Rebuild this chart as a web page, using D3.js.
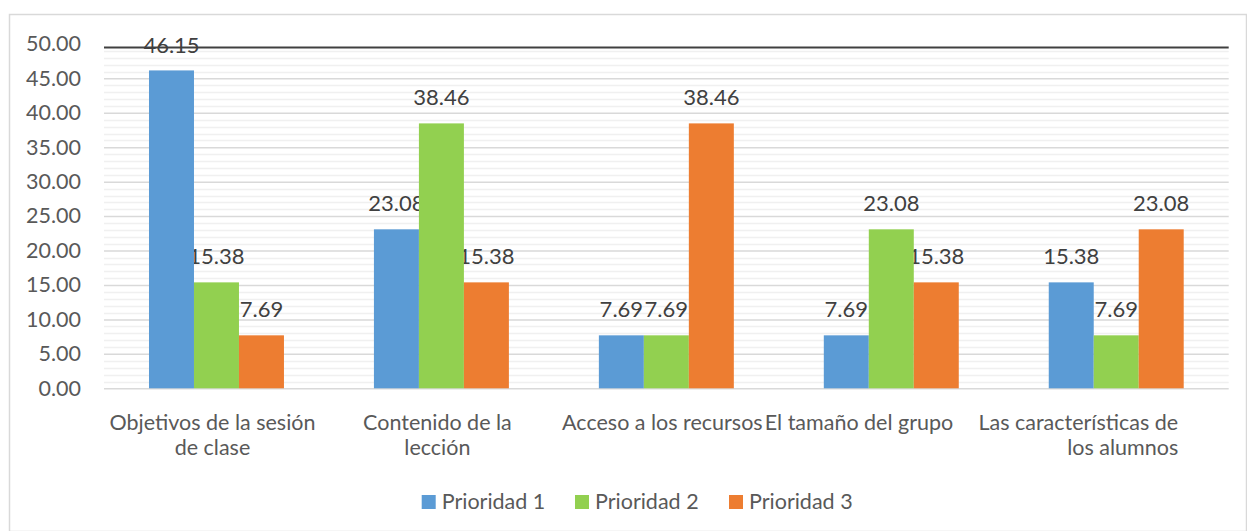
<!DOCTYPE html>
<html>
<head>
<meta charset="utf-8">
<script src="https://cdn.jsdelivr.net/npm/d3@7"></script>
<style>
  body { margin: 0; background: #fff; }
  text { font-family: Lato, "Open Sans", sans-serif; }
</style>
</head>
<body>
<div id="chart"></div>
<script>
//Data
var categories = [
	["Objetivos de la sesión", "de clase"],
	["Contenido de la", "lección"],
	["Acceso a los recursos"],
	["El tamaño del grupo"],
	["Las características de", "los alumnos"]
];
var seriesNames = ["Prioridad 1", "Prioridad 2", "Prioridad 3"];
var prioridad1 = [46.15, 23.08, 7.69, 7.69, 15.38];
var prioridad2 = [15.38, 38.46, 7.69, 23.08, 7.69];
var prioridad3 = [7.69, 15.38, 38.46, 15.38, 23.08];
var yTicks = [0, 5, 10, 15, 20, 25, 30, 35, 40, 45, 50];
var colors = ["#5B9BD5", "#92D050", "#ED7D31"];

function barchart() {
	//Width and height
	var w = 1247;
	var h = 531;
	var margin = { top: 43.9, right: 18.3, bottom: 142.7, left: 104 };
	var width = w - margin.left - margin.right;
	var height = h - margin.top - margin.bottom;

	var series = [prioridad1, prioridad2, prioridad3];

	var svg = d3.select("#chart")
		.append("svg")
		.attr("width", w)
		.attr("height", h);

	//Chart border
	svg.append("rect")
		.attr("x", 9.5)
		.attr("y", 14.5)
		.attr("width", w - 10)
		.attr("height", h - 14)
		.attr("fill", "none")
		.attr("stroke", "#d9d9d9")
		.attr("stroke-width", 1.5);

	var g = svg.append("g")
		.attr("transform", "translate(" + margin.left + "," + margin.top + ")");

	var x0 = d3.scaleBand()
		.domain(d3.range(categories.length))
		.range([0, width])
		.paddingInner(0.4)
		.paddingOuter(0.2);

	var x1 = d3.scaleBand()
		.domain(d3.range(series.length))
		.range([0, x0.bandwidth()]);

	var y = d3.scaleLinear()
		.domain([0, 50])
		.range([height, 0]);

	//Minor gridlines
	g.append("g")
		.selectAll("line")
		.data(d3.range(1, 50).filter(function (d) { return d % 5 !== 0; }))
		.enter().append("line")
		.attr("x1", 0)
		.attr("x2", width)
		.attr("y1", function (d) { return Math.round(y(d)) + 0.5; })
		.attr("y2", function (d) { return Math.round(y(d)) + 0.5; })
		.attr("stroke", "#f0f0f0")
		.attr("stroke-width", 1.5);

	//Major gridlines + Y axis labels
	var yAxis = d3.axisLeft(y)
		.tickValues(yTicks.slice(0, -1))
		.tickSize(-width)
		.tickPadding(23)
		.tickFormat(d3.format(".2f"));

	var ya = g.append("g").call(yAxis);
	ya.select(".domain").remove();
	ya.selectAll(".tick line")
		.attr("stroke", "#d9d9d9")
		.attr("stroke-width", 1.5);
	ya.selectAll(".tick text")
		.attr("fill", "#595959")
		.style("font-size", "21.5px");

	//50.00 label with the dark rule
	g.append("line")
		.attr("x1", 0)
		.attr("x2", width)
		.attr("y1", y(50) + 3.6)
		.attr("y2", y(50) + 3.6)
		.attr("stroke", "#404040")
		.attr("stroke-width", 2);
	g.append("text")
		.attr("x", -23)
		.attr("y", y(50))
		.attr("dy", "0.32em")
		.attr("text-anchor", "end")
		.attr("fill", "#595959")
		.style("font-size", "21.5px")
		.text(d3.format(".2f")(50));

	var groups = g.selectAll(".grp")
		.data(categories.map(function (c, i) { return i; }))
		.enter().append("g")
		.attr("class", "grp")
		.attr("transform", function (i) { return "translate(" + x0(i) + ",0)"; });

	//Value labels (drawn under the bars, like the original)
	groups.selectAll(".val")
		.data(function (i) { return series.map(function (s, k) { return { k: k, v: s[i] }; }); })
		.enter().append("text")
		.attr("class", "val")
		.attr("x", function (d) { return x1(d.k) + x1.bandwidth() / 2; })
		.attr("y", function (d) { return Math.max(y(d.v) - 18.5, 9.5); })
		.attr("text-anchor", "middle")
		.attr("fill", "#404040")
		.style("font-size", "22px")
		.text(function (d) { return d3.format(".2f")(d.v); });

	//Bars
	groups.selectAll("rect")
		.data(function (i) { return series.map(function (s, k) { return { k: k, v: s[i] }; }); })
		.enter().append("rect")
		.attr("x", function (d) { return x1(d.k); })
		.attr("y", function (d) { return y(d.v); })
		.attr("width", x1.bandwidth())
		.attr("height", function (d) { return height - y(d.v); })
		.attr("fill", function (d) { return colors[d.k]; });

	//Category labels
	var catAnchor = ["middle", "middle", "middle", "end", "end"];
	groups.append("text")
		.attr("text-anchor", function (i) { return catAnchor[i]; })
		.attr("fill", "#595959")
		.style("font-size", "21.5px")
		.each(function (i) {
			var t = d3.select(this);
			var cx = catAnchor[i] === "end" ? x0.bandwidth() / 2 + 62 : x0.bandwidth() / 2 - 4;
			categories[i].forEach(function (line, j) {
				t.append("tspan")
					.attr("x", cx)
					.attr("y", height + 41.5 + j * 25.7)
					.text(line);
			});
		});

	//Legend
	var legendX = [421.7, 575, 729];
	var legend = svg.selectAll(".legend")
		.data(seriesNames)
		.enter().append("g")
		.attr("class", "legend")
		.attr("transform", function (d, i) { return "translate(" + legendX[i] + ",495)"; });

	legend.append("rect")
		.attr("width", 14)
		.attr("height", 14)
		.attr("fill", function (d, i) { return colors[i]; });

	legend.append("text")
		.attr("x", 20)
		.attr("y", 14)
		.attr("fill", "#595959")
		.style("font-size", "21.5px")
		.text(function (d) { return d; });
}

barchart();
</script>
</body>
</html>
